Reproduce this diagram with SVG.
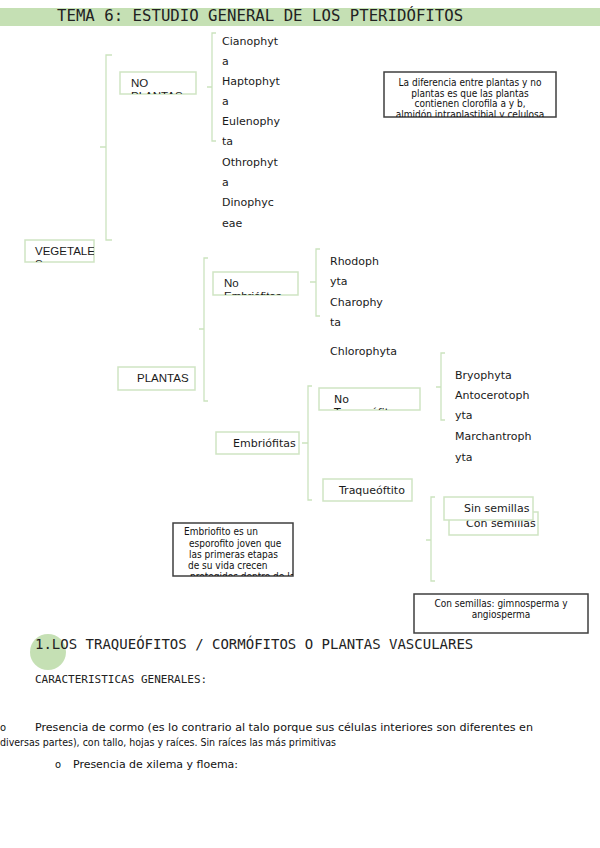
<svg xmlns="http://www.w3.org/2000/svg" width="600" height="848" viewBox="0 0 600 848">
<style>
.box{fill:#fff;stroke:#cfe5c3;stroke-width:1.5}
.note{fill:#fff;stroke:#3f3f3f;stroke-width:1.5}
.br{fill:none;stroke:#cbe3bf;stroke-width:1.3}
.t{font-family:"DejaVu Sans",sans-serif;font-size:11px;fill:#1a1a1a}
.a{font-family:"Liberation Sans",Arial,sans-serif;font-size:11.5px;fill:#1a1a1a}
.n{font-family:"DejaVu Sans Condensed","DejaVu Sans",sans-serif;font-size:10px;fill:#111}
.m{font-family:"DejaVu Sans Mono",monospace;fill:#222}
.b{font-family:"DejaVu Sans Condensed","DejaVu Sans",sans-serif;font-size:11px;fill:#111}
</style>
<defs>
<clipPath id="cNoPl"><rect x="120" y="72" width="76" height="22"/></clipPath>
<clipPath id="cVeg"><rect x="25" y="240" width="69" height="22"/></clipPath>
<clipPath id="cNoEm"><rect x="213" y="272" width="85" height="23"/></clipPath>
<clipPath id="cNoTr"><rect x="319" y="388" width="101" height="22"/></clipPath>
<clipPath id="cTr"><rect x="323" y="479" width="89" height="22"/></clipPath>
<clipPath id="cN1"><rect x="384" y="72" width="172" height="45"/></clipPath>
<clipPath id="cN2"><rect x="173" y="523" width="120" height="53"/></clipPath>
</defs>
<rect x="0" y="8" width="600" height="18" fill="#c5e0b4"/>
<text class="m" x="57" y="21" font-size="15.7">TEMA 6: ESTUDIO GENERAL DE LOS PTERIDÓFITOS</text>
<g id="connectors">
<path class="br" d="M112,55 H106 V240 H112 M106,147 H100"/>
<path class="br" d="M216,33 H212 V141 H216 M212,87 H207"/>
<path class="br" d="M208,258 H204 V401 H208 M204,329 H199"/>
<path class="br" d="M320,249 H316 V316 H320 M316,282 H310"/>
<path class="br" d="M312,386 H308 V500 H312 M308,443 H302"/>
<path class="br" d="M445,353 H441 V420 H445 M441,387 H436"/>
<path class="br" d="M435,497 H431 V581 H435 M431,540 H426"/>
</g>
<g id="vegetales"><rect class="box" x="25" y="240" width="69" height="22"/><g clip-path="url(#cVeg)"><text class="a" x="35" y="255">VEGETALE</text><text class="a" x="35" y="268">S</text></g></g>
<g id="no-plantas"><rect class="box" x="120" y="72" width="76" height="22"/><g clip-path="url(#cNoPl)"><text class="a" x="131" y="87">NO</text><text class="a" x="131" y="100">PLANTAS</text></g></g>
<g id="no-plantas-list" class="t">
<text x="222" y="45">Cianophyt</text><text x="222" y="65">a</text>
<text x="222" y="85">Haptophyt</text><text x="222" y="105">a</text>
<text x="222" y="125">Eulenophy</text><text x="222" y="145">ta</text>
<text x="222" y="166">Othrophyt</text><text x="222" y="186">a</text>
<text x="222" y="206">Dinophyc</text><text x="222" y="227">eae</text>
</g>
<g id="note-diferencia"><rect class="note" x="384" y="72" width="172" height="45"/><g clip-path="url(#cN1)" class="n" text-anchor="middle">
<text x="470" y="86">La diferencia entre plantas y no</text>
<text x="470" y="96.5">plantas es que las plantas</text>
<text x="470" y="107">contienen clorofila a y b,</text>
<text x="470" y="118">almidón intraplastibial y celulosa</text></g></g>
<g id="plantas"><rect class="box" x="118" y="367" width="77" height="23"/><text class="a" x="137" y="382">PLANTAS</text></g>
<g id="no-embriofitos"><rect class="box" x="213" y="272" width="85" height="23"/><g clip-path="url(#cNoEm)"><text class="a" x="224" y="287">No</text><text class="a" x="224" y="300">Embriófitos</text></g></g>
<g id="no-embriofitos-list" class="t">
<text x="330" y="265">Rhodoph</text><text x="330" y="285">yta</text>
<text x="330" y="306">Charophy</text><text x="330" y="326">ta</text>
<text x="330" y="355">Chlorophyta</text>
</g>
<g id="embriofitas"><rect class="box" x="216" y="432" width="83" height="22"/><text class="t" x="233" y="447">Embriófitas</text></g>
<g id="no-traqueofitos"><rect class="box" x="319" y="388" width="101" height="22"/><g clip-path="url(#cNoTr)"><text class="t" x="334" y="403">No</text><text class="t" x="334" y="416">Traqueófitos</text></g></g>
<g id="no-traqueofitos-list" class="t">
<text x="455" y="379">Bryophyta</text>
<text x="455" y="399">Antocerotoph</text><text x="455" y="419">yta</text>
<text x="455" y="440">Marchantroph</text><text x="455" y="461">yta</text>
</g>
<g id="traqueofitos"><rect class="box" x="323" y="479" width="89" height="22"/><g clip-path="url(#cTr)"><text class="t" x="339" y="494">Traqueóftito</text><text class="t" x="339" y="507">s</text></g></g>
<g id="con-semillas"><rect class="box" x="449" y="512" width="89" height="23"/><text class="t" x="466" y="527">Con semillas</text></g>
<g id="sin-semillas"><rect class="box" x="444" y="497" width="89" height="23"/><text class="t" x="464" y="512">Sin semillas</text></g>
<g id="note-embriofito"><rect class="note" x="173" y="523" width="120" height="53"/><g clip-path="url(#cN2)" class="n">
<text x="184" y="535">Embriofito es un</text>
<text x="189" y="547">esporofito joven que</text>
<text x="189" y="558">las primeras etapas</text>
<text x="188" y="569">de su vida crecen</text>
<text x="190" y="580">protegidos dentro de la</text></g></g>
<g id="note-con-semillas"><rect class="note" x="414" y="594" width="174" height="39"/><g class="n" text-anchor="middle">
<text x="501" y="607">Con semillas: gimnosperma y</text>
<text x="501" y="618">angiosperma</text></g></g>
<circle cx="48" cy="652" r="18" fill="#c5e0b4"/>
<text class="m" x="35" y="649" font-size="14">1.LOS TRAQUEÓFITOS / CORMÓFITOS O PLANTAS VASCULARES</text>
<text class="m" x="35" y="683" font-size="11">CARACTERISTICAS GENERALES:</text>
<text class="b" x="0" y="731">o</text>
<text class="b" x="35" y="731" textLength="498" lengthAdjust="spacingAndGlyphs">Presencia de cormo (es lo contrario al talo porque sus células interiores son diferentes en</text>
<text class="b" x="0" y="746" textLength="336" lengthAdjust="spacingAndGlyphs">diversas partes), con tallo, hojas y raíces. Sin raíces las más primitivas</text>
<text class="b" x="55" y="768">o</text>
<text class="b" x="73" y="768" textLength="165" lengthAdjust="spacingAndGlyphs">Presencia de xilema y floema:</text>
</svg>
